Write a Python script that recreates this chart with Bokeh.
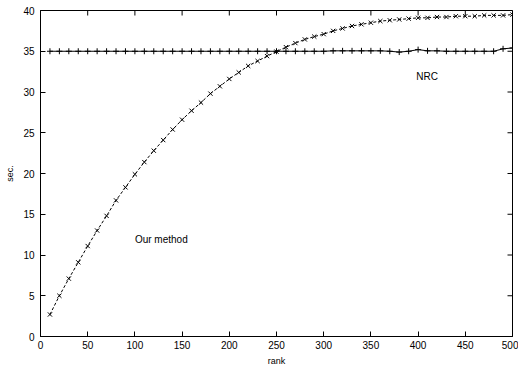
import math
from bokeh.plotting import figure
from bokeh.models import Range1d, FixedTicker, Label
from bokeh.embed import file_html
from bokeh.resources import INLINE

rank = list(range(10, 501, 10))
our_method = [2.7, 5.0, 7.1, 9.1, 11.1, 13.0, 14.8, 16.7, 18.3, 19.9,
              21.4, 22.8, 24.1, 25.4, 26.6, 27.7, 28.7, 29.8, 30.7, 31.6,
              32.4, 33.2, 33.8, 34.4, 34.95, 35.5, 36.0, 36.45, 36.8, 37.1,
              37.5, 37.8, 38.1, 38.3, 38.5, 38.7, 38.8, 38.9, 39.0, 39.1,
              39.1, 39.2, 39.2, 39.3, 39.3, 39.3, 39.4, 39.4, 39.4, 39.5]
nrc = [35.0, 35.0, 35.0, 35.0, 35.0, 35.0, 35.0, 35.0, 35.0, 35.0,
       35.0, 35.0, 35.0, 35.0, 35.0, 35.0, 35.0, 35.0, 35.0, 35.0,
       35.0, 35.0, 35.0, 35.0, 35.0, 35.0, 35.0, 35.0, 35.0, 35.0,
       35.05, 35.05, 35.05, 35.05, 35.05, 35.05, 35.0, 34.9, 35.0, 35.2,
       35.05, 35.05, 35.0, 35.0, 35.0, 35.0, 35.0, 35.0, 35.3, 35.4]
x_ticks = [0, 50, 100, 150, 200, 250, 300, 350, 400, 450, 500]
y_ticks = [0, 5, 10, 15, 20, 25, 30, 35, 40]

FONT = "Liberation Sans"

p = figure(width=518, height=368, output_backend="svg", toolbar_location=None,
           x_range=Range1d(0, 500), y_range=Range1d(0, 40),
           min_border_left=40, min_border_right=6, min_border_top=10, min_border_bottom=30,
           x_axis_label="rank", y_axis_label="sec.")
p.grid.visible = False
p.outline_line_color = "black"
p.outline_line_width = 1

for ax in [p.xaxis[0], p.yaxis[0]]:
    ax.major_tick_in = 5
    ax.major_tick_out = 0
    ax.minor_tick_line_color = None
    ax.axis_line_color = "black"
    ax.major_label_text_font = FONT
    ax.major_label_text_font_size = "10px"
    ax.major_label_text_color = "black"
    ax.axis_label_text_font = FONT
    ax.axis_label_text_font_size = "9px"
    ax.axis_label_text_font_style = "normal"
    ax.axis_label_text_color = "black"
p.xaxis[0].ticker = FixedTicker(ticks=x_ticks)
p.yaxis[0].ticker = FixedTicker(ticks=y_ticks)
p.xaxis[0].major_label_standoff = 4
p.xaxis[0].axis_label_standoff = 4
p.yaxis[0].major_label_standoff = 6
p.yaxis[0].axis_label_standoff = 5

# mirrored inward ticks on top and right edges (half of each dash is clipped by the frame)
p.scatter(x_ticks, [40] * len(x_ticks), marker="dash", angle=math.pi / 2, size=10,
          line_color="black", line_width=1)
p.scatter([500] * len(y_ticks), y_ticks, marker="dash", size=10,
          line_color="black", line_width=1)

p.line(rank, nrc, line_color="black", line_width=1)
p.scatter(rank, nrc, marker="cross", size=6, line_color="black", line_width=1)
p.line(rank, our_method, line_color="black", line_width=1, line_dash="3 2")
p.scatter(rank, our_method, marker="x", size=6, line_color="black", line_width=1)

p.add_layout(Label(x=100, y=11.9, text="Our method", text_font=FONT,
                   text_font_size="10px", text_color="black", text_baseline="middle"))
p.add_layout(Label(x=398, y=31.9, text="NRC", text_font=FONT,
                   text_font_size="10px", text_color="black", text_baseline="middle"))

open("out.html", "w").write(file_html(p, INLINE))
